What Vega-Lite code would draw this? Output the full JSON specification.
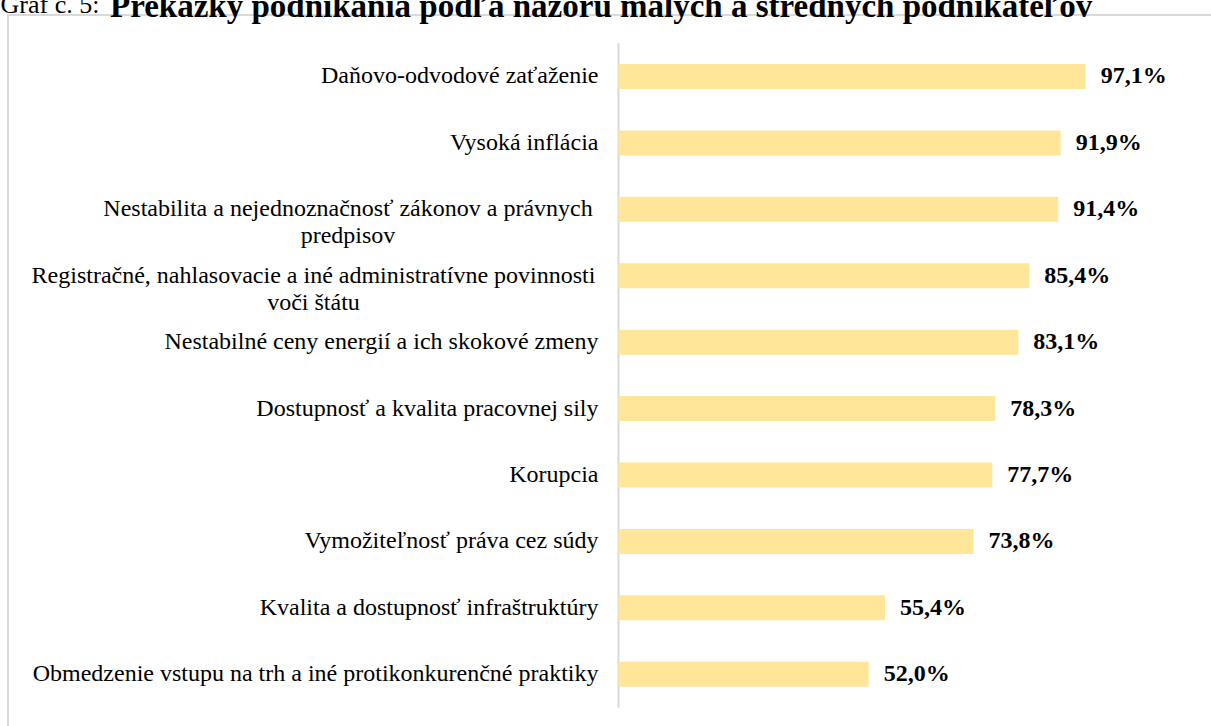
{
  "$schema": "https://vega.github.io/schema/vega-lite/v6.json",
  "autosize": "none",
  "padding": {"left": 8, "top": 15, "right": -3, "bottom": -3},
  "width": 1206,
  "height": 714,
  "background": "white",
  "title": {
    "text": "Prekážky podnikania podľa názoru malých a stredných podnikateľov",
    "anchor": "start",
    "frame": "group",
    "font": "Liberation Serif",
    "fontSize": 33,
    "fontWeight": "bold",
    "color": "black",
    "dx": 102,
    "dy": 33,
    "offset": 0
  },
  "config": {"view": {"stroke": "#D9D9D9", "strokeWidth": 2}},
  "data": {
    "values": [
      {"k": "Daňovo-odvodové zaťaženie", "v": 97.1, "lab": "97,1%"},
      {"k": "Vysoká inflácia\u00a0", "v": 91.9, "lab": "91,9%"},
      {"k": "Nestabilita a nejednoznačnosť zákonov a právnych\u00a0\npredpisov\u00a0\u00a0\u00a0\u00a0", "v": 91.4, "lab": "91,4%"},
      {"k": "Registračné, nahlasovacie a iné administratívne povinnosti\u00a0\nvoči štátu\u00a0\u00a0\u00a0\u00a0", "v": 85.4, "lab": "85,4%"},
      {"k": "Nestabilné ceny energií a ich skokové zmeny\u00a0", "v": 83.1, "lab": "83,1%"},
      {"k": "Dostupnosť a kvalita pracovnej sily\u00a0", "v": 78.3, "lab": "78,3%"},
      {"k": "Korupcia\u00a0", "v": 77.7, "lab": "77,7%"},
      {"k": "Vymožiteľnosť práva cez súdy\u00a0", "v": 73.8, "lab": "73,8%"},
      {"k": "Kvalita a dostupnosť infraštruktúry", "v": 55.4, "lab": "55,4%"},
      {"k": "Obmedzenie vstupu na trh a iné protikonkurenčné praktiky", "v": 52.0, "lab": "52,0%"}
    ]
  },
  "encoding": {
    "y": {
      "field": "k",
      "type": "nominal",
      "sort": null,
      "scale": {
        "domain": [
          "Daňovo-odvodové zaťaženie",
          "Vysoká inflácia\u00a0",
          "Nestabilita a nejednoznačnosť zákonov a právnych\u00a0\npredpisov\u00a0\u00a0\u00a0\u00a0",
          "Registračné, nahlasovacie a iné administratívne povinnosti\u00a0\nvoči štátu\u00a0\u00a0\u00a0\u00a0",
          "Nestabilné ceny energií a ich skokové zmeny\u00a0",
          "Dostupnosť a kvalita pracovnej sily\u00a0",
          "Korupcia\u00a0",
          "Vymožiteľnosť práva cez súdy\u00a0",
          "Kvalita a dostupnosť infraštruktúry",
          "Obmedzenie vstupu na trh a iné protikonkurenčné praktiky"
        ],
        "paddingInner": 0.624,
        "paddingOuter": 0.687,
        "align": 0.537
      },
      "axis": {
        "title": "Graf č.  5:",
        "labels": false,
        "ticks": false,
        "domain": false,
        "grid": false,
        "titleAngle": 0,
        "titleX": -8,
        "titleY": -3,
        "titleAlign": "left",
        "titleBaseline": "alphabetic",
        "titleFont": "Liberation Serif",
        "titleFontSize": 26,
        "titleFontWeight": "normal",
        "titleColor": "black"
      }
    }
  },
  "layer": [
    {
      "data": {"values": [{}]},
      "mark": {"type": "rule", "color": "#D9D9D9", "strokeWidth": 2},
      "encoding": {
        "x": {"datum": 0, "type": "quantitative", "scale": {"domain": [-126.9, 123.78], "nice": false, "zero": false}, "axis": null},
        "y": {
          "datum": "Daňovo-odvodové zaťaženie",
          "type": "nominal",
          "bandPosition": -0.829,
          "axis": {
            "title": "Graf č.  5:",
            "labels": false,
            "ticks": false,
            "domain": false,
            "grid": false,
            "titleAngle": 0,
            "titleX": -8,
            "titleY": -3,
            "titleAlign": "left",
            "titleBaseline": "alphabetic",
            "titleFont": "Liberation Serif",
            "titleFontSize": 26,
            "titleFontWeight": "normal",
            "titleColor": "black"
          }
        },
        "y2": {"datum": "Obmedzenie vstupu na trh a iné protikonkurenčné praktiky", "bandPosition": 1.829}
      }
    },
    {
      "mark": {"type": "bar", "color": "#FFE699"},
      "encoding": {
        "x": {"field": "v", "type": "quantitative", "scale": {"domain": [-126.9, 123.78], "nice": false, "zero": false}, "axis": null},
        "x2": {"datum": 0}
      }
    },
    {
      "transform": [{"filter": "indexof(datum.k, 'Nestabilita') != 0 && indexof(datum.k, 'Registra') != 0"}],
      "mark": {"type": "text", "align": "right", "baseline": "middle", "dx": -20, "font": "Liberation Serif", "fontSize": 24, "color": "black"},
      "encoding": {
        "x": {"datum": 0, "type": "quantitative", "scale": {"domain": [-126.9, 123.78], "nice": false, "zero": false}, "axis": null},
        "text": {"field": "k"}
      }
    },
    {
      "transform": [{"filter": "indexof(datum.k, 'Nestabilita') == 0"}],
      "mark": {"type": "text", "align": "center", "baseline": "middle", "dx": -270.5, "lineBreak": "\n", "lineHeight": 27, "font": "Liberation Serif", "fontSize": 24, "color": "black"},
      "encoding": {
        "x": {"datum": 0, "type": "quantitative", "scale": {"domain": [-126.9, 123.78], "nice": false, "zero": false}, "axis": null},
        "text": {"field": "k"}
      }
    },
    {
      "transform": [{"filter": "indexof(datum.k, 'Registra') == 0"}],
      "mark": {"type": "text", "align": "center", "baseline": "middle", "dx": -305, "lineBreak": "\n", "lineHeight": 27, "font": "Liberation Serif", "fontSize": 24, "color": "black"},
      "encoding": {
        "x": {"datum": 0, "type": "quantitative", "scale": {"domain": [-126.9, 123.78], "nice": false, "zero": false}, "axis": null},
        "text": {"field": "k"}
      }
    },
    {
      "mark": {"type": "text", "align": "left", "baseline": "middle", "dx": 15, "font": "Liberation Serif", "fontSize": 24, "fontWeight": "bold", "color": "black"},
      "encoding": {
        "x": {"field": "v", "type": "quantitative", "scale": {"domain": [-126.9, 123.78], "nice": false, "zero": false}, "axis": null},
        "text": {"field": "lab"}
      }
    }
  ]
}
